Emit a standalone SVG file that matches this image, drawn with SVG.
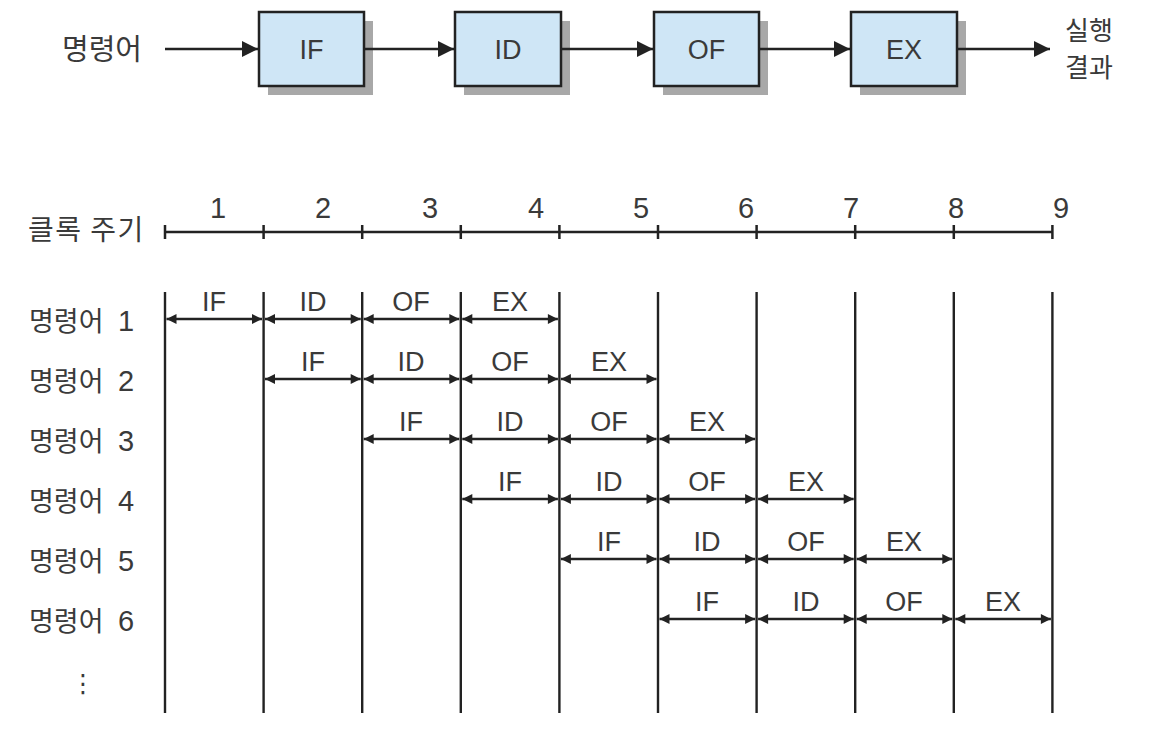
<svg xmlns="http://www.w3.org/2000/svg" width="1154" height="740" viewBox="0 0 1154 740">
<style>
.ko{font-family:"Noto Sans CJK KR","Noto Sans",sans-serif;fill:#3a3a3a;}
.la{font-family:"Liberation Sans",Arial,sans-serif;fill:#3a3a3a;}
.box{fill:#cfe6f6;stroke:#222;stroke-width:2.5;}
.shadow{fill:#a8a8a8;}
.ln{stroke:#222;stroke-width:2.5;fill:none;}
.vl{stroke:#222;stroke-width:2.4;fill:none;}
.dbl{stroke:#222;stroke-width:2.4;fill:none;marker-start:url(#ah);marker-end:url(#ah);}
.one{stroke:#222;stroke-width:2.5;fill:none;marker-end:url(#ahb);}
</style>
<defs>
<marker id="ah" viewBox="0 0 10 10" refX="10" refY="5" markerWidth="12" markerHeight="10" markerUnits="userSpaceOnUse" orient="auto-start-reverse">
<path d="M0,0 L10,5 L0,10 Z" fill="#222"/>
</marker>
<marker id="ahb" viewBox="0 0 10 10" refX="10" refY="5" markerWidth="19" markerHeight="16" markerUnits="userSpaceOnUse" orient="auto">
<path d="M0,0 L10,5 L0,10 Z" fill="#222"/>
</marker>
</defs>
<rect width="1154" height="740" fill="#fff"/>

<!-- top pipeline -->
<g id="input-label"><text class="ko" x="62" y="60" font-size="29">명령어</text></g>
<g id="stage-IF"><rect class="shadow" x="268" y="21" width="105" height="74"/><rect class="box" x="259" y="12" width="105" height="74"/><text class="la" x="311.5" y="59" font-size="27" text-anchor="middle">IF</text></g>
<g id="stage-ID"><rect class="shadow" x="464" y="21" width="106" height="74"/><rect class="box" x="455" y="12" width="106" height="74"/><text class="la" x="508" y="59" font-size="27" text-anchor="middle">ID</text></g>
<g id="stage-OF"><rect class="shadow" x="663" y="21" width="105" height="74"/><rect class="box" x="654" y="12" width="105" height="74"/><text class="la" x="706.5" y="59" font-size="27" text-anchor="middle">OF</text></g>
<g id="stage-EX"><rect class="shadow" x="860" y="21" width="106" height="74"/><rect class="box" x="851" y="12" width="106" height="74"/><text class="la" x="904" y="59" font-size="27" text-anchor="middle">EX</text></g>
<g id="output-label"><text class="ko" x="1065" y="40" font-size="26">실행</text><text class="ko" x="1065" y="77" font-size="26">결과</text></g>
<g id="pipeline-connectors">
<line class="one" x1="165" y1="49" x2="258" y2="49"/>
<line class="one" x1="364" y1="49" x2="454" y2="49"/>
<line class="one" x1="561" y1="49" x2="653" y2="49"/>
<line class="one" x1="759" y1="49" x2="850" y2="49"/>
<line class="one" x1="957" y1="49" x2="1050" y2="49"/>
</g>

<!-- clock axis -->
<g id="clock-axis">
<text class="ko" x="28" y="240" font-size="28" letter-spacing="1.5">클록 주기</text>
<line class="ln" x1="165" y1="232" x2="1052.5" y2="232"/>
<path class="ln" d="M165,225V239 M263.6,225V239 M362.2,225V239 M460.8,225V239 M559.4,225V239 M658,225V239 M756.6,225V239 M855.2,225V239 M953.8,225V239 M1052.4,225V239"/>
<g class="la" font-size="29" text-anchor="middle">
<text x="218" y="218">1</text><text x="323" y="218">2</text><text x="430" y="218">3</text><text x="536" y="218">4</text><text x="641" y="218">5</text><text x="746" y="218">6</text><text x="851" y="218">7</text><text x="956" y="218">8</text><text x="1061" y="218">9</text>
</g>
</g>

<!-- vertical grid lines -->
<g id="grid">
<path class="vl" d="M165,292V713 M263.6,292V713 M362.2,292V713 M460.8,292V713 M559.4,292V713 M658,292V713 M756.6,292V713 M855.2,292V713 M953.8,292V713 M1052.4,292V713"/>
</g>

<!-- row labels -->
<g id="row-labels">
<g id="row1"><text class="ko" x="29" y="331" font-size="27">명령어</text><text class="la" x="118" y="331" font-size="29">1</text></g>
<g id="row2"><text class="ko" x="29" y="391" font-size="27">명령어</text><text class="la" x="118" y="391" font-size="29">2</text></g>
<g id="row3"><text class="ko" x="29" y="451" font-size="27">명령어</text><text class="la" x="118" y="451" font-size="29">3</text></g>
<g id="row4"><text class="ko" x="29" y="511" font-size="27">명령어</text><text class="la" x="118" y="511" font-size="29">4</text></g>
<g id="row5"><text class="ko" x="29" y="571" font-size="27">명령어</text><text class="la" x="118" y="571" font-size="29">5</text></g>
<g id="row6"><text class="ko" x="29" y="631" font-size="27">명령어</text><text class="la" x="118" y="631" font-size="29">6</text></g>
<text x="83" y="692" font-size="25" text-anchor="middle" fill="#3a3a3a" style="font-family:'DejaVu Sans',sans-serif">⋮</text>
</g>

<!-- stage arrows -->
<g id="stage-arrows">
<line class="dbl" x1="166.5" y1="319" x2="262" y2="319"/>
<line class="dbl" x1="265" y1="319" x2="360.7" y2="319"/>
<line class="dbl" x1="363.7" y1="319" x2="459.3" y2="319"/>
<line class="dbl" x1="462.3" y1="319" x2="557.9" y2="319"/>

<line class="dbl" x1="265" y1="379" x2="360.7" y2="379"/>
<line class="dbl" x1="363.7" y1="379" x2="459.3" y2="379"/>
<line class="dbl" x1="462.3" y1="379" x2="557.9" y2="379"/>
<line class="dbl" x1="560.9" y1="379" x2="656.5" y2="379"/>

<line class="dbl" x1="363.7" y1="439" x2="459.3" y2="439"/>
<line class="dbl" x1="462.3" y1="439" x2="557.9" y2="439"/>
<line class="dbl" x1="560.9" y1="439" x2="656.5" y2="439"/>
<line class="dbl" x1="659.5" y1="439" x2="755.1" y2="439"/>

<line class="dbl" x1="462.3" y1="499" x2="557.9" y2="499"/>
<line class="dbl" x1="560.9" y1="499" x2="656.5" y2="499"/>
<line class="dbl" x1="659.5" y1="499" x2="755.1" y2="499"/>
<line class="dbl" x1="758.1" y1="499" x2="853.7" y2="499"/>

<line class="dbl" x1="560.9" y1="559" x2="656.5" y2="559"/>
<line class="dbl" x1="659.5" y1="559" x2="755.1" y2="559"/>
<line class="dbl" x1="758.1" y1="559" x2="853.7" y2="559"/>
<line class="dbl" x1="856.7" y1="559" x2="952.3" y2="559"/>

<line class="dbl" x1="659.5" y1="619" x2="755.1" y2="619"/>
<line class="dbl" x1="758.1" y1="619" x2="853.7" y2="619"/>
<line class="dbl" x1="856.7" y1="619" x2="952.3" y2="619"/>
<line class="dbl" x1="955.3" y1="619" x2="1050.9" y2="619"/>
</g>

<!-- stage labels -->
<g id="stage-labels" class="la" font-size="27" text-anchor="middle">
<text x="214" y="311">IF</text><text x="313" y="311">ID</text><text x="411" y="311">OF</text><text x="510" y="311">EX</text>
<text x="313" y="371">IF</text><text x="411" y="371">ID</text><text x="510" y="371">OF</text><text x="609" y="371">EX</text>
<text x="411" y="431">IF</text><text x="510" y="431">ID</text><text x="609" y="431">OF</text><text x="707" y="431">EX</text>
<text x="510" y="491">IF</text><text x="609" y="491">ID</text><text x="707" y="491">OF</text><text x="806" y="491">EX</text>
<text x="609" y="551">IF</text><text x="707" y="551">ID</text><text x="806" y="551">OF</text><text x="904" y="551">EX</text>
<text x="707" y="611">IF</text><text x="806" y="611">ID</text><text x="904" y="611">OF</text><text x="1003" y="611">EX</text>
</g>
</svg>
